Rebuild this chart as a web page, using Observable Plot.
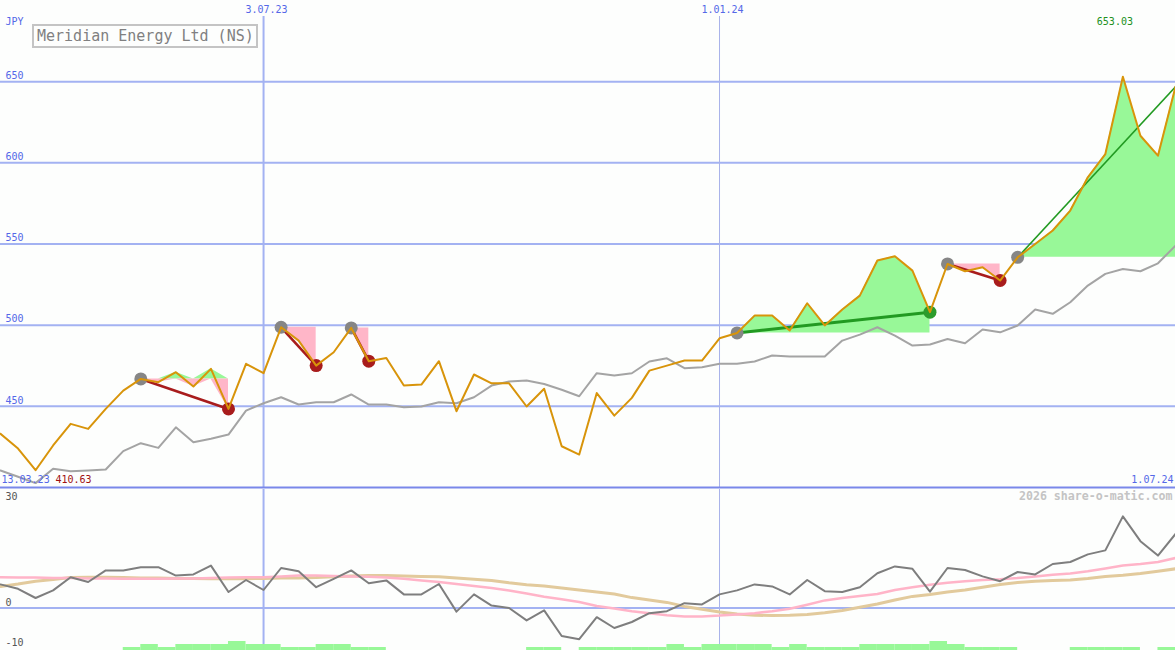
<!DOCTYPE html>
<html><head><meta charset="utf-8">
<script src="https://cdn.jsdelivr.net/npm/d3@7"></script>
<script src="https://cdn.jsdelivr.net/npm/@observablehq/plot@0.6"></script>
<style>
html,body{margin:0;padding:0;background:#fdfefd;}
#chart{position:relative;width:1175px;height:650px;overflow:hidden;background:#fdfefd;}
#chart svg{display:block;}
#title{position:absolute;z-index:5;left:32px;top:24px;width:226px;height:24px;box-sizing:border-box;border:2px solid #c4c4c4;font:15px "DejaVu Sans Mono",monospace;color:#808080;line-height:20px;padding-left:3px;white-space:nowrap;background:#fdfefd;}
</style></head><body>
<div id="chart"><div id="title">Meridian Energy Ltd (NS)</div></div>
<script>
// ---- data (weekly closes) ----
const startDate = "2023-03-20";
const price = [433.1,424.0,410.63,425.9,439.2,436.1,448.4,459.7,466.9,464.9,
  471.0,462.2,473.1,448.4,476.2,470.4,498.7,490.5,475.1,483.3,
  498.3,477.8,479.8,462.8,463.4,477.8,447.0,469.6,464.2,464.2,
  449.9,460.8,425.4,420.3,458.2,444.3,455.2,472.0,475.1,478.2,
  478.2,491.9,495.2,505.9,505.9,496.7,513.5,499.8,509.6,518.2,
  539.8,542.4,533.6,508.0,537.7,533.2,535.7,527.5,541.8,550.0,
  558.3,570.6,591.1,605.4,653.03,616.7,604.4,646.9];
const average = [410.5,406.6,402.7,411.5,410.0,410.5,411.1,422.4,427.3,424.4,
  437.1,427.9,430.0,432.6,447.4,451.9,455.6,451.1,452.5,452.5,
  457.3,451.1,451.1,449.4,449.9,452.5,451.9,455.6,462.8,465.3,
  465.9,463.8,460.2,456.2,470.4,469.0,470.4,477.6,479.6,473.5,
  474.1,476.2,476.2,477.6,481.3,480.7,480.7,480.7,490.5,494.2,
  498.7,493.6,487.4,488.1,491.5,488.9,497.3,495.6,499.8,509.6,
  507.0,514.1,524.4,531.6,534.6,533.2,538.1,549.0];
const oscillator = [5.9,4.8,2.5,4.4,7.7,6.5,9.4,9.4,10.2,10.2,
  8.1,8.4,10.6,4.0,7.0,4.5,10.0,9.2,5.2,7.3,
  9.4,6.2,6.9,3.4,3.4,6.0,-0.9,3.4,0.6,0.0,
  -3.1,-0.6,-7.0,-7.8,-2.3,-5.0,-3.5,-1.3,-0.8,1.2,
  0.9,3.4,4.4,5.9,5.4,3.4,7.0,4.2,4.0,5.2,
  8.7,10.4,9.8,4.1,10.0,9.5,7.9,6.7,9.0,8.4,
  11.0,11.5,13.4,14.4,22.9,16.7,13.1,18.5];
const oscSlow = [7.7,7.6,7.6,7.5,7.5,7.4,7.4,7.3,7.3,7.3,
  7.4,7.4,7.5,7.6,7.7,7.7,7.9,8.1,8.1,8.0,
  7.9,7.8,7.6,7.3,6.9,6.5,6.0,5.5,5.0,4.4,
  3.6,2.8,2.2,1.5,0.5,-0.1,-0.8,-1.3,-1.8,-2.1,
  -2.1,-1.9,-1.6,-1.3,-0.8,-0.2,0.8,1.9,2.5,3.0,
  3.5,4.5,5.2,5.8,6.3,6.7,7.0,7.2,7.5,7.9,
  8.3,8.6,9.2,9.9,10.6,11.0,11.5,12.5];
const oscSignal = [5.4,6.0,6.7,7.1,7.6,7.7,7.7,7.6,7.5,7.5,
  7.4,7.4,7.3,7.3,7.3,7.4,7.5,7.5,7.6,7.8,
  8.0,8.1,8.1,8.0,7.9,7.8,7.5,7.2,6.9,6.3,
  5.8,5.5,5.0,4.5,4.0,3.5,2.6,2.0,1.4,0.4,
  -0.3,-1.0,-1.5,-1.8,-1.9,-1.8,-1.6,-1.2,-0.6,0.2,
  1.0,2.0,2.9,3.4,4.0,4.5,5.2,5.9,6.4,6.7,
  6.9,7.0,7.4,7.9,8.2,8.6,9.2,9.8];
// activity bars per week (0-3), span from week i to week i+1
const activity = [0,0,0,0,0,0,0,1,2,1, 2,2,2,3,2,2,1,1,2,2, 1,1,0,0,0,0,0,0,0,0,
  1,1,0,1,1,1,1,1,2,1, 2,2,2,2,1,2,1,1,1,2, 2,2,2,3,2,1,1,1,0,0, 0,1,1,1,1,0,1];
// swing signals (week indices)
const swingFrom = [8,16,20,42,54,58];
const swingTo   = [13,18,21,53,57,67];
const swingDir  = ["down","down","down","up","down","up"];
const yTicks = [450,500,550,600,650];
const oscTicks = [0,-10];
const oscTopLabel = "30";
const gridDates = ["2023-07-03","2024-01-01"];
const gridLabels = ["3.07.23","1.01.24"];
const firstLabel = "13.03.23", lastLabel = "1.07.24";
const minLabel = "410.63", maxLabel = "653.03";
const currency = "JPY";
const watermark = "2026 share-o-matic.com";

// ---- build ----
const t0 = new Date(startDate + "T00:00:00Z");
const dates = price.map((_, i) => d3.utcDay.offset(t0, 7 * i));
const rows = price.map((p, i) => ({date: dates[i], price: p, avg: average[i], osc: oscillator[i], slow: oscSlow[i], sig: oscSignal[i]}));
const last = price.length - 1;
const xDomain = [dates[0], dates[last]];
const gDates = gridDates.map(d => new Date(d + "T00:00:00Z"));

const areaRows = [];
const swings = swingFrom.map((f, k) => {
  const t = swingTo[k], level = price[f];
  for (let i = f; i <= t; i++) areaRows.push({k, date: dates[i], level, hi: Math.max(price[i], level), lo: Math.min(price[i], level)});
  return {k, x1: dates[f], y1: price[f], x2: dates[t], y2: price[t], dir: swingDir[k], open: t === last};
});

const blue = "#5468e8", grid = "#a3b2f2", font = "DejaVu Sans Mono, monospace";
const maxIdx = price.indexOf(d3.max(price));

const main = Plot.plot({
  width: 1175, height: 489, marginTop: 0, marginRight: 0, marginBottom: 2, marginLeft: 0,
  x: {type: "utc", domain: xDomain, axis: null},
  y: {domain: [400, 700], axis: null},
  style: {background: "#fdfefd", fontFamily: font, fontSize: "10px", overflow: "visible"},
  marks: [
    Plot.ruleY(yTicks, {stroke: grid, strokeWidth: 2}),
    Plot.ruleX([gDates[0]], {stroke: grid, strokeWidth: 2, insetTop: 16}),
    Plot.ruleX([gDates[1]], {stroke: "#a8b2ea", strokeWidth: 1, insetTop: 16}),
    Plot.areaY(areaRows, {x: "date", y1: "level", y2: "hi", z: "k", fill: "#98f898", curve: "linear"}),
    Plot.areaY(areaRows, {x: "date", y1: "level", y2: "lo", z: "k", fill: "#ffb6c8", curve: "linear"}),
    Plot.ruleY([400], {stroke: "#7a88ea", strokeWidth: 2}),
    Plot.line(rows, {x: "date", y: "avg", stroke: "#a4a4a4", strokeWidth: 2}),
    Plot.link(swings, {x1: "x1", y1: "y1", x2: "x2", y2: "y2",
      stroke: d => d.dir === "down" ? "#a81c1c" : "#229a22",
      strokeWidth: d => d.open ? 1.6 : (d.dir === "down" ? 2.6 : 3)}),
    Plot.dot(swings, {x: "x1", y: "y1", r: 6.5, fill: "#868686", stroke: null}),
    Plot.dot(swings.filter(d => !d.open), {x: "x2", y: "y2", r: 6.5, fill: d => d.dir === "down" ? "#a81c1c" : "#2c9c2c", stroke: null}),
    Plot.line(rows, {x: "date", y: "price", stroke: "#d8940a", strokeWidth: 2}),
    Plot.text(yTicks, {y: d => d, text: d => String(d), frameAnchor: "left", dx: 5, dy: -6, textAnchor: "start", fill: blue}),
    Plot.text(gridLabels, {x: (d, i) => gDates[i], text: d => d, frameAnchor: "top", lineAnchor: "middle", dy: 9, dx: 3, fill: blue}),
    Plot.text([currency], {text: d => d, frameAnchor: "top-left", lineAnchor: "middle", dx: 5, dy: 21, textAnchor: "start", fill: blue}),
    Plot.text([maxLabel], {x: () => dates[maxIdx], text: d => d, frameAnchor: "top", lineAnchor: "middle", dy: 21, dx: -8, fill: "#209020"}),
    Plot.text([firstLabel], {text: d => d, frameAnchor: "bottom-left", lineAnchor: "middle", dx: 1, dy: -8, textAnchor: "start", fill: blue}),
    Plot.text([minLabel], {text: d => d, frameAnchor: "bottom-left", lineAnchor: "middle", dx: 55, dy: -8, textAnchor: "start", fill: "#a01010"}),
    Plot.text([lastLabel], {text: d => d, frameAnchor: "bottom-right", lineAnchor: "middle", dx: -2, dy: -8, textAnchor: "end", fill: blue})
  ]
});

const oscDomain = [-10.625, 29.625];
const barRows = activity.map((a, i) => ({x1: dates[i], x2: dates[i + 1], a})).filter(d => d.a > 0);

const lower = Plot.plot({
  width: 1175, height: 161, marginTop: 0, marginRight: 0, marginBottom: 0, marginLeft: 0,
  x: {type: "utc", domain: xDomain, axis: null},
  y: {domain: oscDomain, axis: null},
  style: {background: "#fdfefd", fontFamily: font, fontSize: "10px", overflow: "visible"},
  marks: [
    Plot.ruleY([0], {stroke: grid, strokeWidth: 2}),
    Plot.ruleX([gDates[0]], {stroke: grid, strokeWidth: 2}),
    Plot.ruleX([gDates[1]], {stroke: "#a8b2ea", strokeWidth: 1}),
    Plot.rectY(barRows, {x1: "x1", x2: "x2", y1: () => oscDomain[0], y2: d => oscDomain[0] + d.a * 0.75, fill: "#98f898", inset: 0}),
    Plot.line(rows, {x: "date", y: "sig", stroke: "#e2ca9c", strokeWidth: 3}),
    Plot.line(rows, {x: "date", y: "slow", stroke: "#ffb4c8", strokeWidth: 2.5}),
    Plot.line(rows, {x: "date", y: "osc", stroke: "#7e7e7e", strokeWidth: 2}),
    Plot.text(oscTicks, {y: d => d, text: d => String(d), frameAnchor: "left", dx: 5, dy: -5.5, textAnchor: "start", fill: "#555"}),
    Plot.text([oscTopLabel], {text: d => d, frameAnchor: "top-left", lineAnchor: "middle", dx: 5, dy: 7, textAnchor: "start", fill: "#555"}),
    Plot.text([watermark], {text: d => d, frameAnchor: "top-right", lineAnchor: "middle", dx: -3, dy: 7, textAnchor: "end", fill: "#c4c4c4", fontWeight: "bold", fontSize: 11.6})
  ]
});

const chart = document.getElementById("chart");
chart.appendChild(main);
chart.appendChild(lower);
</script>
</body></html>
